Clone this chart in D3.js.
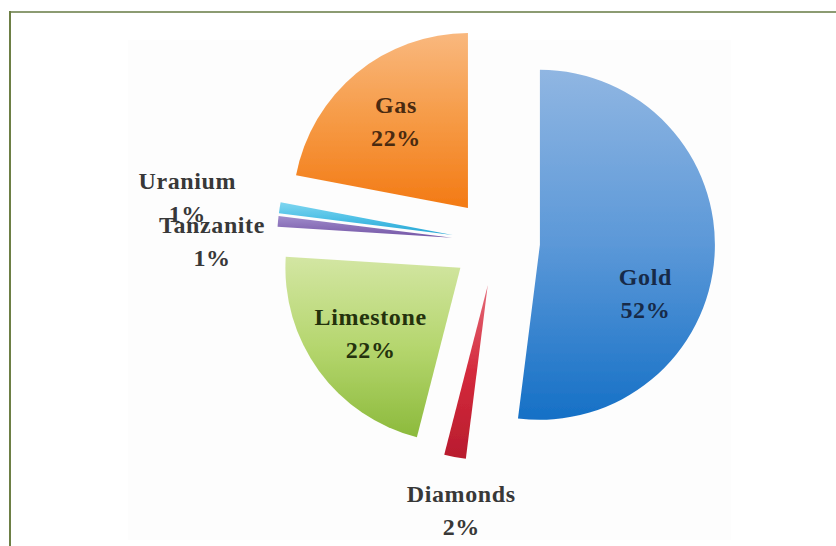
<!DOCTYPE html>
<html><head><meta charset="utf-8">
<script src="https://cdn.jsdelivr.net/npm/d3@7"></script>
<style>html,body{margin:0;padding:0;background:#fff;}svg{display:block;}</style>
</head><body>
<script>
const categories = ["Gold", "Diamonds", "Limestone", "Tanzanite", "Uranium", "Gas"];
const values = [52, 2, 22, 1, 1, 22];
const percentLabels = ["52%", "2%", "22%", "1%", "1%", "22%"];

const W = 836, H = 546;
const svg = d3.select("body").append("svg").attr("width", W).attr("height", H);

// frame
svg.append("rect").attr("x", 128).attr("y", 40).attr("width", 603).attr("height", 500).attr("fill", "#fdfdfd");
svg.append("line").attr("x1", 9).attr("x2", 836).attr("y1", 12).attr("y2", 12).attr("stroke", "#8c9b72").attr("stroke-width", 2);
svg.append("line").attr("x1", 10).attr("x2", 10).attr("y1", 11).attr("y2", 546).attr("stroke", "#6d7f45").attr("stroke-width", 2);

const cx = 496, cy = 242, R = 175, explode = 44;
const grads = {
  Gold: ["#90b6e2", "#5b98d8", "#1570c6"],
  Diamonds: ["#e46a78", "#d42a3c", "#b81c2e"],
  Limestone: ["#d3e6a3", "#b5d66e", "#8cba3c"],
  Tanzanite: ["#a08ccc", "#8a70b8", "#7457a6"],
  Uranium: ["#7fd6f0", "#4ec0e6", "#25a6d4"],
  Gas: ["#f9b87e", "#f69a45", "#f37a14"]
};
const textColors = { Gold: "#172a48", Gas: "#4a2a10", Limestone: "#24320d" };
// label placement: [angle (deg, clockwise from top) or null for mid-angle, radius]
const labelLayout = {
  Gold: [109, 158], Gas: [null, 157], Limestone: [null, 155],
  Uranium: [278.3, 312], Tanzanite: [270.2, 284], Diamonds: [187.4, 270]
};

const defs = svg.append("defs");
categories.forEach(c => {
  const g = defs.append("linearGradient").attr("id", "g_" + c)
    .attr("x1", 0).attr("y1", 0).attr("x2", 0).attr("y2", 1);
  grads[c].forEach((col, i) => g.append("stop").attr("offset", (i / 2)).attr("stop-color", col));
});
const blur = defs.append("filter").attr("id", "soft").attr("x", "-5%").attr("y", "-5%").attr("width", "110%").attr("height", "110%");
blur.append("feGaussianBlur").attr("stdDeviation", 0.6);

const pie = d3.pie().sort(null).value(d => d.value).startAngle(0).endAngle(2 * Math.PI);
const data = categories.map((c, i) => ({ name: c, value: values[i], pct: percentLabels[i] }));
const arcs = pie(data);
const arc = d3.arc().innerRadius(0).outerRadius(R);

const g = svg.append("g").attr("transform", `translate(${cx},${cy})`);
arcs.forEach(a => {
  const mid = (a.startAngle + a.endAngle) / 2;
  const dx = explode * Math.sin(mid), dy = -explode * Math.cos(mid);
  g.append("path").attr("d", arc(a))
    .attr("transform", `translate(${dx},${dy})`)
    .attr("fill", `url(#g_${a.data.name})`)
    .attr("filter", "url(#soft)");
});

arcs.forEach(a => {
  const mid = (a.startAngle + a.endAngle) / 2;
  const lay = labelLayout[a.data.name];
  const ang = lay[0] == null ? mid : lay[0] * Math.PI / 180;
  const x = lay[1] * Math.sin(ang), y = -lay[1] * Math.cos(ang);
  const t = g.append("text").attr("x", x).attr("y", y)
    .attr("text-anchor", "middle")
    .attr("font-family", "'Liberation Serif', 'DejaVu Serif', serif")
    .attr("font-weight", "bold").attr("font-size", 24)
    .attr("letter-spacing", 0.6)
    .attr("fill", textColors[a.data.name] || "#383838");
  t.append("tspan").attr("x", x).attr("dy", -8).text(a.data.name);
  t.append("tspan").attr("x", x).attr("dy", 33).text(a.data.pct);
});
</script>
</body></html>
